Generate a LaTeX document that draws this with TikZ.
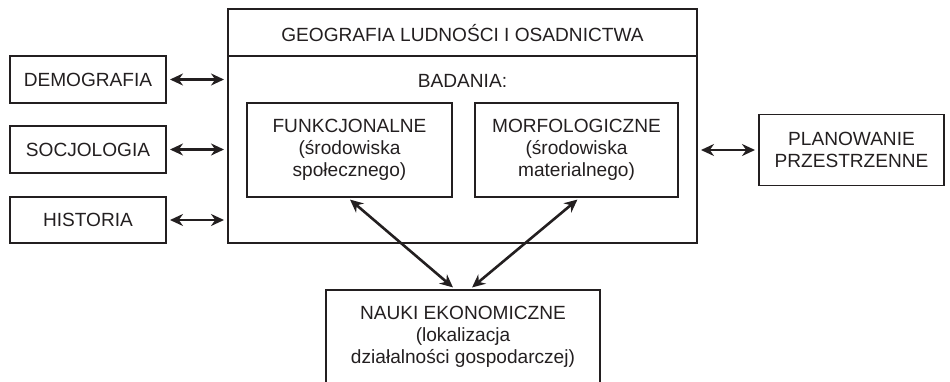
\documentclass[tikz,border=0pt]{standalone}
\usepackage{fontspec}
\setmainfont{Liberation Sans}
\usetikzlibrary{arrows.meta,calc}
\definecolor{ink}{HTML}{231F20}
\begin{document}
\begin{tikzpicture}[x=1pt,y=-1pt,
  every node/.style={inner sep=0pt, outer sep=0pt, text=ink, align=center,
    font=\fontsize{19.1}{22}\selectfont},
  box/.style={draw=ink, line width=1.4pt},
  arr/.style={draw=ink, line width=2.6pt, {Stealth[length=13pt,width=12pt]}-{Stealth[length=13pt,width=12pt]}, shorten <=4pt, shorten >=4pt}]
\useasboundingbox (0,0) rectangle (950,381);
\clip (0,0) rectangle (950,381);
% left boxes
\node[box, minimum width=156pt, minimum height=47pt] (dem) at (88,79.5) {DEMOGRAFIA};
\node[box, minimum width=156pt, minimum height=47pt] (soc) at (88,149.5) {SOCJOLOGIA};
\node[box, minimum width=156pt, minimum height=46pt] (his) at (88,220) {HISTORIA};
% outer box
\node[box, minimum width=469pt, minimum height=234pt] (geo) at (462.5,126) {};
\coordinate (divl) at (228,56);
\coordinate (divr) at (697,56);
\draw[box] (divl) -- (divr);
\node (title) at (462.5,33) {GEOGRAFIA LUDNOŚCI I OSADNICTWA};
\node (bad) at (462.5,81) {BADANIA:};
\node[box, minimum width=205pt, minimum height=94pt] (fun) at (349.5,150) {FUNKCJONALNE\\(środowiska\\społecznego)};
\node[box, minimum width=203pt, minimum height=94pt] (mor) at (576.5,150) {MORFOLOGICZNE\\(środowiska\\materialnego)};
% right box
\node[box, minimum width=185pt, minimum height=71pt] (plan) at (851.5,150) {PLANOWANIE\\PRZESTRZENNE};
% bottom box
\node[box, minimum width=274pt, minimum height=130pt] (nauki) at (463,355) {};
\node (naukit) at (463,337) {NAUKI EKONOMICZNE\\(lokalizacja\\działalności gospodarczej)};
% arrows
\draw[arr] (dem.east) -- (dem.east -| geo.west);
\draw[arr] (soc.east) -- (soc.east -| geo.west);
\draw[arr] (his.east) -- (his.east -| geo.west);
\draw[arr] (plan.west -| geo.east) -- (plan.west);
\draw[arr] ([xshift=-2.5pt]fun.south) -- ([xshift=-7pt]nauki.north);
\draw[arr] ([xshift=4pt]mor.south) -- ([xshift=6pt]nauki.north);
\end{tikzpicture}
\end{document}
